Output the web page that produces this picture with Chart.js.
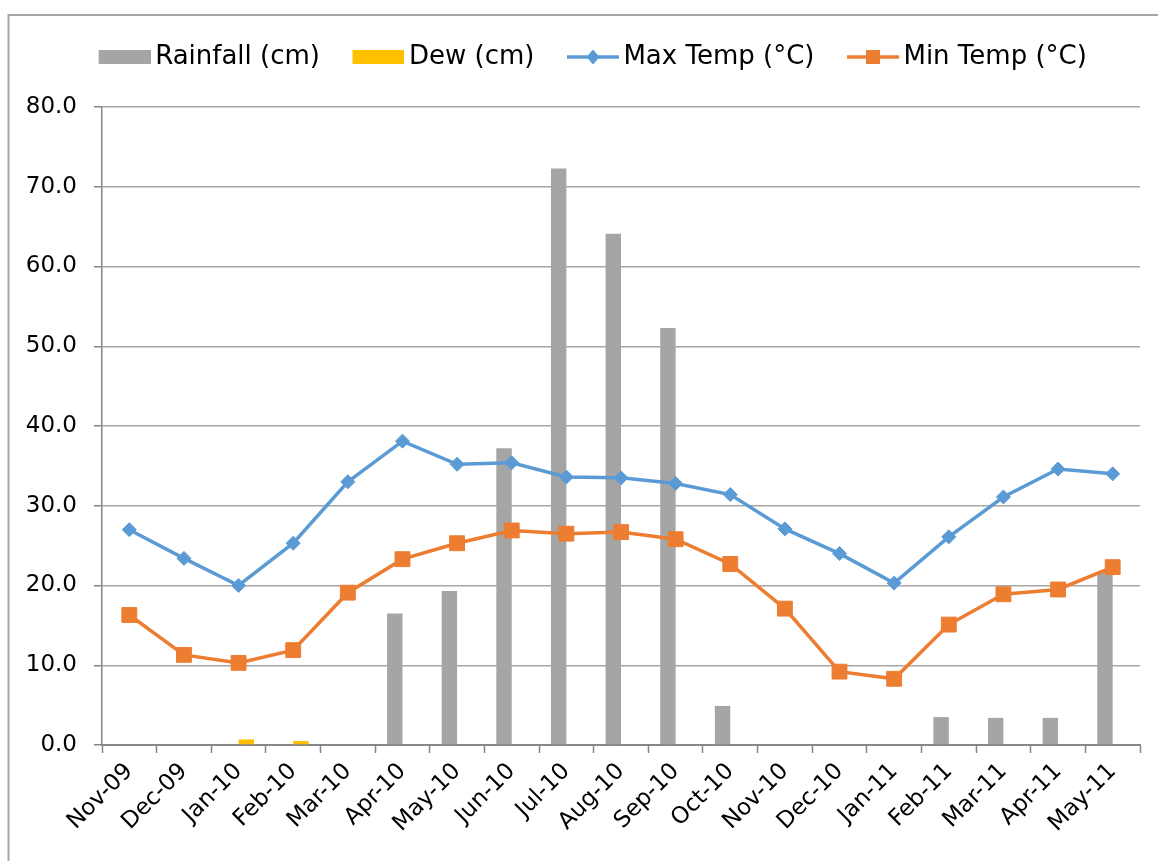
<!DOCTYPE html>
<html>
<head>
<meta charset="utf-8">
<title>Rainfall, dew and temperature, Nov-09 to May-11</title>
<script src="https://cdn.jsdelivr.net/npm/chart.js@4.4.1/dist/chart.umd.min.js"></script>
<style>
  html, body { margin: 0; padding: 0; background: #ffffff; }
  #wrap { position: relative; width: 1158px; height: 861px; }
</style>
</head>
<body>
<div id="wrap"><canvas id="chart" width="1158" height="861"></canvas></div>
<script>
// Monthly observations
const months = ['Nov-09', 'Dec-09', 'Jan-10', 'Feb-10', 'Mar-10', 'Apr-10', 'May-10', 'Jun-10',
  'Jul-10', 'Aug-10', 'Sep-10', 'Oct-10', 'Nov-10', 'Dec-10', 'Jan-11', 'Feb-11', 'Mar-11',
  'Apr-11', 'May-11'];
const rainfall = [0, 0, 0, 0, 0, 16.5, 19.3, 37.2, 72.3, 64.1, 52.3, 4.9, 0, 0, 0, 3.5, 3.4, 3.4, 21.8];
const dew      = [0, 0, 0.7, 0.5, 0, 0, 0, 0, 0, 0, 0, 0, 0, 0, 0, 0, 0, 0, 0];
const maxTemp  = [27.0, 23.4, 20.0, 25.3, 33.0, 38.1, 35.2, 35.4, 33.6, 33.5, 32.8, 31.4, 27.1, 24.0,
  20.3, 26.1, 31.1, 34.6, 34.0];
const minTemp  = [16.3, 11.3, 10.3, 11.9, 19.1, 23.3, 25.3, 26.9, 26.5, 26.7, 25.8, 22.7, 17.1, 9.2,
  8.3, 15.1, 18.9, 19.5, 22.3];
const seriesNames = ['Rainfall (cm)', 'Dew (cm)', 'Max Temp (°C)', 'Min Temp (°C)'];

const COLORS = { rain: '#a5a5a5', dew: '#ffc000', max: '#5b9bd5', min: '#ed7d31' };
const FONT = "'DejaVu Sans', sans-serif";
const AXIS = '#868686';
const GRID = '#a6a6a6';

// Legend swatches: filled boxes for bars, line + marker for the line series
function swatch(kind, color) {
  const c = document.createElement('canvas');
  c.width = 60; c.height = 26;
  const g = c.getContext('2d');
  g.fillStyle = color;
  g.strokeStyle = color;
  if (kind === 'box') {
    g.fillRect(8, 6, 52, 14);
  } else {
    g.lineWidth = 3.5;
    g.beginPath(); g.moveTo(8, 13); g.lineTo(60, 13); g.stroke();
    if (kind === 'diamond') {
      g.beginPath();
      g.moveTo(34, 5.5); g.lineTo(40.5, 13); g.lineTo(34, 20.5); g.lineTo(27.5, 13);
      g.closePath(); g.fill();
    } else {
      g.fillRect(27, 6, 14, 14);
    }
  }
  return c;
}
const swatches = [swatch('box', COLORS.rain), swatch('box', COLORS.dew),
  swatch('diamond', COLORS.max), swatch('square', COLORS.min)];

// Extra room between the legend row and the plot area, and a small shift of the row
const legendPlace = {
  id: 'legendPlace',
  beforeInit(chart) {
    const fit = chart.legend.fit;
    chart.legend.fit = function () { fit.call(this); this.height += 27; };
  },
  afterLayout(chart) {
    chart.legend.left += 13;
    chart.legend.right += 13;
  }
};

// White page and the thin frame around the chart
const frame = {
  id: 'frame',
  beforeDraw(chart) {
    const ctx = chart.ctx;
    ctx.save();
    ctx.fillStyle = '#ffffff';
    ctx.fillRect(0, 0, chart.width, chart.height);
    ctx.strokeStyle = '#a6a6a6';
    ctx.lineWidth = 2;
    ctx.strokeRect(8.5, 15, 1200, 1000);
    ctx.restore();
  }
};

new Chart(document.getElementById('chart'), {
  type: 'bar',
  data: {
    labels: months,
    datasets: [
      { type: 'bar', label: seriesNames[0], data: rainfall, backgroundColor: COLORS.rain,
        borderWidth: 0, order: 2, categoryPercentage: 0.564, barPercentage: 1 },
      { type: 'bar', label: seriesNames[1], data: dew, backgroundColor: COLORS.dew,
        borderWidth: 0, order: 2, categoryPercentage: 0.564, barPercentage: 1 },
      { type: 'line', label: seriesNames[2], data: maxTemp, borderColor: COLORS.max,
        backgroundColor: COLORS.max, borderWidth: 3.5, pointStyle: 'rectRot', pointRadius: 7,
        pointBorderWidth: 1, tension: 0, order: 1 },
      { type: 'line', label: seriesNames[3], data: minTemp, borderColor: COLORS.min,
        backgroundColor: COLORS.min, borderWidth: 3.5, pointStyle: 'rect', pointRadius: 10.5,
        pointBorderWidth: 1, tension: 0, order: 1 }
    ]
  },
  options: {
    responsive: false,
    animation: false,
    devicePixelRatio: 1,
    layout: { padding: { top: 11, left: 20, right: 18, bottom: 0 } },
    plugins: {
      tooltip: { enabled: false },
      legend: {
        position: 'top',
        labels: {
          usePointStyle: true,
          pointStyleWidth: 43,
          padding: 33,
          color: '#000000',
          font: { family: FONT, size: 26 },
          generateLabels: () => seriesNames.map((name, i) => ({
            text: name, pointStyle: swatches[i], datasetIndex: i, hidden: false,
            fontColor: '#000000', lineWidth: 0, strokeStyle: 'rgba(0,0,0,0)', fillStyle: 'rgba(0,0,0,0)'
          }))
        }
      }
    },
    scales: {
      x: {
        offset: true,
        grid: { offset: true, drawOnChartArea: false, drawTicks: true, tickLength: 8,
          tickColor: AXIS, tickWidth: 1.5 },
        border: { color: AXIS, width: 2 },
        ticks: { autoSkip: false, minRotation: 45, maxRotation: 45, padding: 5,
          color: '#000000', font: { family: FONT, size: 23 } },
        afterFit(scale) { scale.height = 116; }
      },
      y: {
        min: 0, max: 80,
        grid: { color: GRID, lineWidth: 1.5, drawTicks: true, tickLength: 8,
          tickColor: AXIS, tickWidth: 1.5 },
        border: { color: AXIS, width: 1.5 },
        ticks: { stepSize: 10, padding: 17, color: '#000000', font: { family: FONT, size: 23 },
          callback: (v) => Number(v).toFixed(1) },
        afterFit(scale) { scale.width = 82; }
      }
    }
  },
  plugins: [legendPlace, frame]
});
</script>
</body>
</html>
